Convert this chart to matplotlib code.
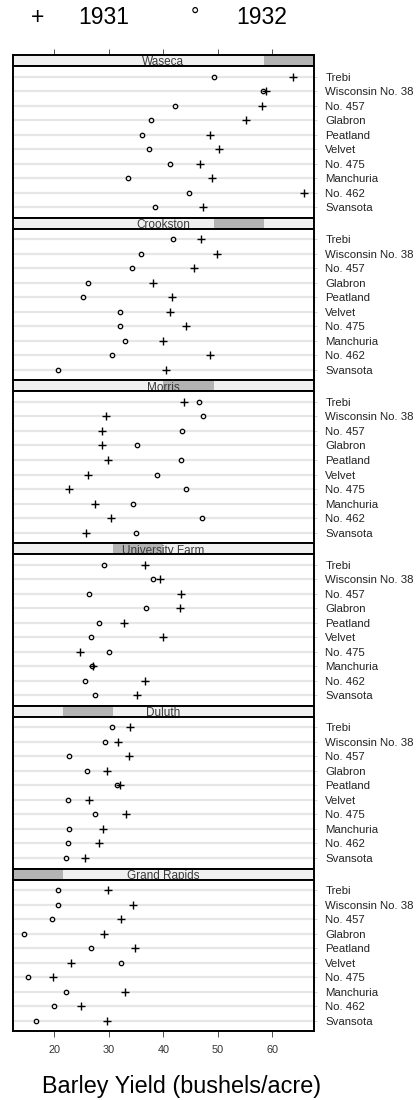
import matplotlib
matplotlib.use("Agg")
import matplotlib.pyplot as plt

plt.rcParams['font.family'] = ['Liberation Sans', 'DejaVu Sans']

varieties = ["Trebi", "Wisconsin No. 38", "No. 457", "Glabron", "Peatland",
             "Velvet", "No. 475", "Manchuria", "No. 462", "Svansota"]
sites = ["Waseca", "Crookston", "Morris", "University Farm", "Duluth", "Grand Rapids"]
# strip indicator position (1 = lowest level)
site_level = [6, 5, 4, 3, 2, 1]

yield_1931 = {
    "Waseca":          [63.8, 58.8, 58.1, 55.2, 48.6, 50.2, 46.8, 48.9, 65.8, 47.3],
    "Crookston":       [46.9, 49.9, 45.7, 38.1, 41.6, 41.3, 44.1, 39.9, 48.6, 40.5],
    "Morris":          [43.8, 29.5, 28.7, 28.8, 29.9, 26.1, 22.6, 27.4, 30.4, 25.8],
    "University Farm": [36.6, 39.3, 43.3, 43.1, 32.8, 39.9, 24.7, 27.0, 36.6, 35.1],
    "Duluth":          [33.9, 31.6, 33.6, 29.7, 32.0, 26.3, 33.1, 29.0, 28.1, 25.7],
    "Grand Rapids":    [29.8, 34.5, 32.2, 29.1, 34.7, 23.0, 19.7, 33.0, 24.9, 29.7],
}
yield_1932 = {
    "Waseca":          [49.2, 58.2, 42.2, 37.7, 36.0, 37.4, 41.3, 33.5, 44.7, 38.5],
    "Crookston":       [41.8, 35.9, 34.3, 26.2, 25.2, 32.1, 32.1, 33.0, 30.5, 20.6],
    "Morris":          [46.6, 47.2, 43.5, 35.1, 43.2, 38.8, 44.2, 34.4, 47.0, 35.0],
    "University Farm": [29.1, 38.0, 26.4, 36.8, 28.1, 26.8, 30.0, 26.9, 25.6, 27.4],
    "Duluth":          [30.6, 29.3, 22.7, 25.9, 31.4, 22.5, 27.4, 22.6, 22.5, 22.2],
    "Grand Rapids":    [20.6, 20.7, 19.5, 14.4, 26.8, 32.2, 15.2, 22.1, 19.9, 16.6],
}
xticks = [20, 30, 40, 50, 60]

W, H = 416, 1100
fig = plt.figure(figsize=(W / 100, H / 100), dpi=100)

left, right = 12.5, 314.3
top = 55.0
strip_h = 11.0
panel_h = 151.7
xlim = (12.3, 67.7)
frame_lw = 1.4

for i, site in enumerate(sites):
    y0 = top + i * (strip_h + panel_h)

    # strip with level indicator
    sax = fig.add_axes([left / W, 1 - (y0 + strip_h) / H, (right - left) / W, strip_h / H])
    sax.set_facecolor('#f0f0f0')
    sax.set_xlim(0, 6)
    sax.set_ylim(0, 1)
    lvl = site_level[i]
    sax.axvspan(lvl - 1, lvl, color='#b3b3b3', lw=0)
    sax.text(3, 0.32, site, ha='center', va='center', fontsize=8.5, color='#3a3a3a')
    sax.set_yticks([])
    for sp in sax.spines.values():
        sp.set_linewidth(frame_lw)
    if i == 0:
        sax.xaxis.tick_top()
        sax.set_xticks([(t - xlim[0]) / (xlim[1] - xlim[0]) * 6 for t in xticks])
        sax.set_xticklabels([])
        sax.tick_params(axis='x', length=4, width=0.6, color='#333333', direction='out')
    else:
        sax.set_xticks([])

    # panel
    ax = fig.add_axes([left / W, 1 - (y0 + strip_h + panel_h) / H,
                       (right - left) / W, panel_h / H])
    ax.set_xlim(*xlim)
    ax.set_ylim(9.73, -0.73)
    rows = list(range(len(varieties)))
    for r in rows:
        ax.axhline(r, color='#e6e6e6', lw=1.6, zorder=1)
    ax.plot(yield_1932[site], rows, ls='none', marker='o', ms=3.2, mfc='none',
            mec='black', mew=0.9, zorder=3)
    ax.plot(yield_1931[site], rows, ls='none', marker='+', ms=6.2, mec='black',
            mew=1.0, zorder=3)
    for sp in ax.spines.values():
        sp.set_linewidth(frame_lw)
    ax.yaxis.tick_right()
    ax.set_yticks(rows)
    ax.set_yticklabels(varieties)
    ax.tick_params(axis='y', length=2, width=0.6, color='#cccccc', pad=6,
                   labelsize=8.2, labelcolor='#222222')
    for lab in ax.get_yticklabels():
        lab.set_y(lab.get_position()[1])
    ax.set_xticks(xticks)
    if i == len(sites) - 1:
        ax.tick_params(axis='x', length=4, width=0.6, color='#333333', pad=6,
                       labelsize=7.8, labelcolor='#333333')
    else:
        ax.tick_params(axis='x', length=0, labelbottom=False)

# key at the top
fig.text(38 / W, 1 - 18 / H, "+", ha='center', va='center', fontsize=16.5)
fig.text(78 / W, 1 - 18 / H, "1931", ha='left', va='center', fontsize=16.5)
fig.text(195 / W, 1 - 16 / H, "°", ha='center', va='center', fontsize=15)
fig.text(236 / W, 1 - 18 / H, "1932", ha='left', va='center', fontsize=16.5)

fig.text(182 / W, 1 - 1087 / H, "Barley Yield (bushels/acre)", ha='center',
         va='center', fontsize=16.8)

fig.savefig("out.png", dpi=100)
